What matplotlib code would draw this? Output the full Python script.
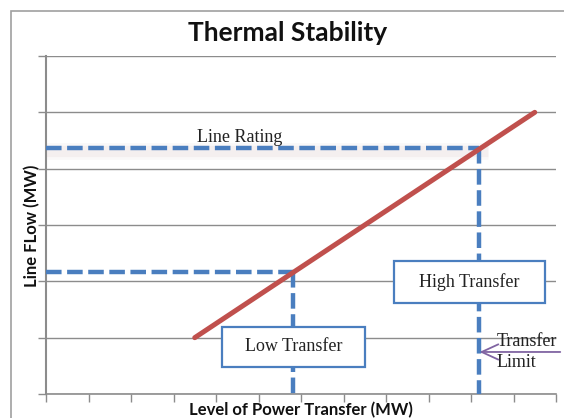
import matplotlib
matplotlib.use("Agg")
import matplotlib.pyplot as plt
from matplotlib.patches import Rectangle

# ---- data ----
flow_x = [3.5, 11.5]          # red line (power transfer)
flow_y = [1.0, 5.0]           # line flow
rating_y = 4.37               # line rating
low_x, low_y = 5.8, 2.17      # low transfer point
high_x = 10.2                 # transfer limit
x_ticks = list(range(0, 13))
y_ticks = list(range(0, 7))

title = "Thermal Stability"
xlabel = "Level of Power Transfer (MW)"
ylabel = "Line FLow (MW)"

BLUE = "#4a7ebf"
RED = "#c0504d"
PURPLE = "#8064a2"
GRID = "#8c8c8c"

W, H = 564, 418
fig = plt.figure(figsize=(W / 100, H / 100), dpi=100)
ax = fig.add_axes([46 / W, 24 / H, 510 / W, 338 / H])
ax.set_xlim(0, 12)
ax.set_ylim(0, 6)

# outer frame
fig.patches.append(Rectangle((11 / W, -0.1), 1.2, 1 - 11 / H + 0.1, transform=fig.transFigure,
                             fill=False, edgecolor="#a0a0a0", linewidth=1.2))

# grid & axes
ax.set_xticks(x_ticks)
ax.set_yticks(y_ticks)
ax.set_xticklabels([])
ax.set_yticklabels([])
ax.tick_params(axis="both", direction="out", length=6, width=1, color=GRID)
ax.grid(axis="y", color=GRID, linewidth=1)
for s in ["top", "right"]:
    ax.spines[s].set_visible(False)
ax.spines["left"].set_color(GRID)
ax.spines["left"].set_linewidth(1.5)
ax.spines["bottom"].set_color(GRID)
ax.spines["bottom"].set_linewidth(1.2)
ax.set_axisbelow(True)

# shadow of line rating
for lw, a in [(12, 0.06), (8, 0.08)]:
    ax.plot([0, high_x + 0.2], [rating_y - 0.05, rating_y - 0.05], color="#b09090",
            linewidth=lw, alpha=a, solid_capstyle="butt", zorder=2)

dash = dict(color=BLUE, linewidth=3.2, linestyle=(0, (3.5, 1.25)), zorder=3)
ax.plot([0, high_x], [rating_y, rating_y], **dash)
ax.plot([high_x, high_x], [rating_y, 0], **dash)
ax.plot([0, low_x], [low_y, low_y], **dash)
ax.plot([low_x, low_x], [low_y, 0], **dash)

# red flow line
ax.plot(flow_x, flow_y, color=RED, linewidth=3.6, solid_capstyle="round", zorder=4)

serif = "Liberation Serif"
ax.text(4.55, rating_y + 0.1, "Line Rating", fontsize=13, family=serif,
        ha="center", va="baseline", color="#222222", zorder=5)

# boxes
def box(cx, cy, w, h, label):
    ax.add_patch(Rectangle((cx - w / 2, cy - h / 2), w, h, facecolor="white",
                           edgecolor=BLUE, linewidth=1.6, zorder=5))
    ax.text(cx, cy, label, fontsize=13, family=serif, ha="center", va="center",
            color="#222222", zorder=6)

box(low_x + 0.02, 0.835, 3.36, 0.71, "Low Transfer")
box(9.96, 1.99, 3.55, 0.746, "High Transfer")

# transfer limit arrow
ax.annotate("", xy=(high_x, 0.746), xytext=(12.1, 0.746),
            arrowprops=dict(arrowstyle="->,head_length=1.2,head_width=0.55", color=PURPLE,
                            lw=1.3, shrinkA=0, shrinkB=0, mutation_scale=10),
            annotation_clip=False, zorder=7)
ax.text(10.6, 0.853, "Transfer", fontsize=13, family=serif, ha="left", va="baseline",
        color="#222222", zorder=6, clip_on=False)
ax.text(10.6, 0.48, "Limit", fontsize=13, family=serif, ha="left", va="baseline",
        color="#222222", zorder=6, clip_on=False)

sans = ["Lato", "DejaVu Sans"]
fig.text(288 / W, 1 - 33 / H, title, fontsize=19, fontweight="bold", family=sans,
         ha="center", va="center", color="#111111")
fig.text(301 / W, 1 - 410 / H, xlabel, fontsize=12, fontweight="bold", family=sans,
         ha="center", va="center", color="#111111")
fig.text(32 / W, 1 - 226 / H, ylabel, fontsize=12, fontweight="bold", family=sans,
         ha="center", va="center", rotation=90, color="#111111")

fig.savefig("out.png", dpi=100)
